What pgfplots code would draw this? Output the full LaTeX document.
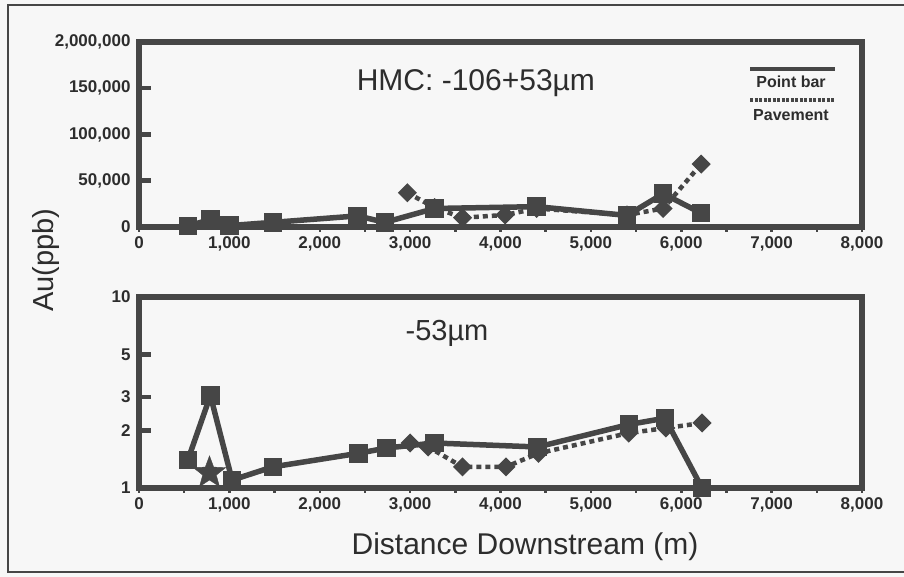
\documentclass[border=0pt]{standalone}
\usepackage{fontspec}
\setmainfont{Liberation Sans}
\usepackage{pgfplots}
\pgfplotsset{compat=1.18}
\definecolor{ink}{RGB}{70,70,70}
\definecolor{txt}{RGB}{45,45,45}
\definecolor{bg}{RGB}{247,247,247}

\pgfdeclareplotmark{fstar}{%
  \pgfpathmoveto{\pgfpointpolar{90}{\pgfplotmarksize}}%
  \pgfpathlineto{\pgfpointpolar{126}{0.42\pgfplotmarksize}}%
  \pgfpathlineto{\pgfpointpolar{162}{\pgfplotmarksize}}%
  \pgfpathlineto{\pgfpointpolar{198}{0.42\pgfplotmarksize}}%
  \pgfpathlineto{\pgfpointpolar{234}{\pgfplotmarksize}}%
  \pgfpathlineto{\pgfpointpolar{270}{0.42\pgfplotmarksize}}%
  \pgfpathlineto{\pgfpointpolar{306}{\pgfplotmarksize}}%
  \pgfpathlineto{\pgfpointpolar{342}{0.42\pgfplotmarksize}}%
  \pgfpathlineto{\pgfpointpolar{18}{\pgfplotmarksize}}%
  \pgfpathlineto{\pgfpointpolar{54}{0.42\pgfplotmarksize}}%
  \pgfpathclose\pgfusepathqfillstroke}

\pgfplotsset{
  panel/.style={
    anchor=south west, scale only axis, width=723pt,
    xmin=0, xmax=8000,
    xtick={0,1000,...,8000},
    minor xtick={0,500,...,8000},
    scaled x ticks=false, scaled y ticks=false,
    tick pos=left,
    xtick align=outside, ytick align=inside,
    major tick length=12pt, minor tick length=5pt,
    major x tick style={draw=none},
    minor x tick style={line width=2.5pt, ink},
    major y tick style={line width=4.5pt, ink},
    axis line style={line width=5.5pt, ink, line cap=rect},
    /pgf/number format/assume math mode=true,
    /pgf/number format/1000 sep={,},
    ticklabel style={font=\bfseries\fontsize{17}{17}\selectfont, text=txt},
    xticklabel style={yshift=6pt},
    yticklabel style={xshift=-5pt},
    clip=false,
  },
  pb/.style={ink, line width=5.5pt, mark=square*, mark size=6.5pt, mark options={solid}},
  pv/.style={ink, line width=4.5pt, dash pattern=on 5pt off 4pt, mark=square*, mark size=4.5pt, mark options={solid, rotate=45}},
}

\begin{document}
\begin{tikzpicture}
\fill[bg] (0pt,0pt) rectangle (904pt,577pt);
\useasboundingbox (0pt,0pt) rectangle (904pt,577pt);
\draw[ink, line width=2pt] (904pt,572pt) -- (8pt,572pt) -- (8pt,5pt) -- (904pt,5pt);

% Top panel
\begin{axis}[panel, at={(139pt,350pt)}, height=185pt,
  ymin=0, ymax=200000,
  ytick={0,50000,100000,150000,200000},
  yticklabels={0,{50,000},{100,000},{150,000},{2,000,000}},
]
\addplot[pb] coordinates {(540,1000) (790,8000) (1000,1500) (1480,5000) (2420,12000) (2720,5000) (3270,20000) (4400,22000) (5400,12500) (5800,36000) (6220,15000)};
\addplot[pv] coordinates {(2970,37000) (3270,21000) (3580,10000) (4050,13000) (4400,20000) (5400,13000) (5800,20000) (6220,68000)};
\node[font=\fontsize{30}{32}\selectfont, text=txt] at (rel axis cs:0.466,0.78) {HMC: -106+53µm};
\end{axis}

% Legend (top panel)
\draw[ink, line width=4pt] (750pt,508pt) -- (835pt,508pt);
\node[font=\bfseries\fontsize{16}{16}\selectfont, text=txt] at (791pt,495pt) {Point bar};
\draw[ink, line width=4pt, dash pattern=on 3pt off 1.5pt] (750pt,477pt) -- (835pt,477pt);
\node[font=\bfseries\fontsize{16}{16}\selectfont, text=txt] at (791pt,462pt) {Pavement};

% Bottom panel
\begin{axis}[panel, at={(139pt,89pt)}, height=191pt,
  ymode=log, ymin=1, ymax=10,
  ytick={1,2,3,5,10}, yticklabels={1,2,3,5,10},
  yminorticks=false,
]
\addplot[pb] coordinates {(540,1.40) (790,3.05) (1030,1.10) (1480,1.29) (2430,1.52) (2740,1.62) (3270,1.72) (4410,1.64) (5420,2.15) (5820,2.32) (6230,1.0)};
\addplot[pv] coordinates {(3000,1.72) (3200,1.64) (3580,1.29) (4060,1.29) (4420,1.52) (5420,1.94) (5830,2.06) (6230,2.19)};
\addplot[ink, only marks, mark=triangle*, mark size=6.5pt] coordinates {(3000,1.72)};
\addplot[ink, only marks, mark=fstar, mark size=17pt] coordinates {(780,1.2)};
\node[font=\fontsize{29}{31}\selectfont, text=txt] at (rel axis cs:0.426,0.81) {-53µm};
\end{axis}

\node[font=\fontsize{29}{30}\selectfont, text=txt, rotate=90] at (46pt,317pt) {Au(ppb)};
\node[font=\fontsize{30}{31}\selectfont, text=txt] at (525pt,30pt) {Distance Downstream (m)};
\end{tikzpicture}
\end{document}
